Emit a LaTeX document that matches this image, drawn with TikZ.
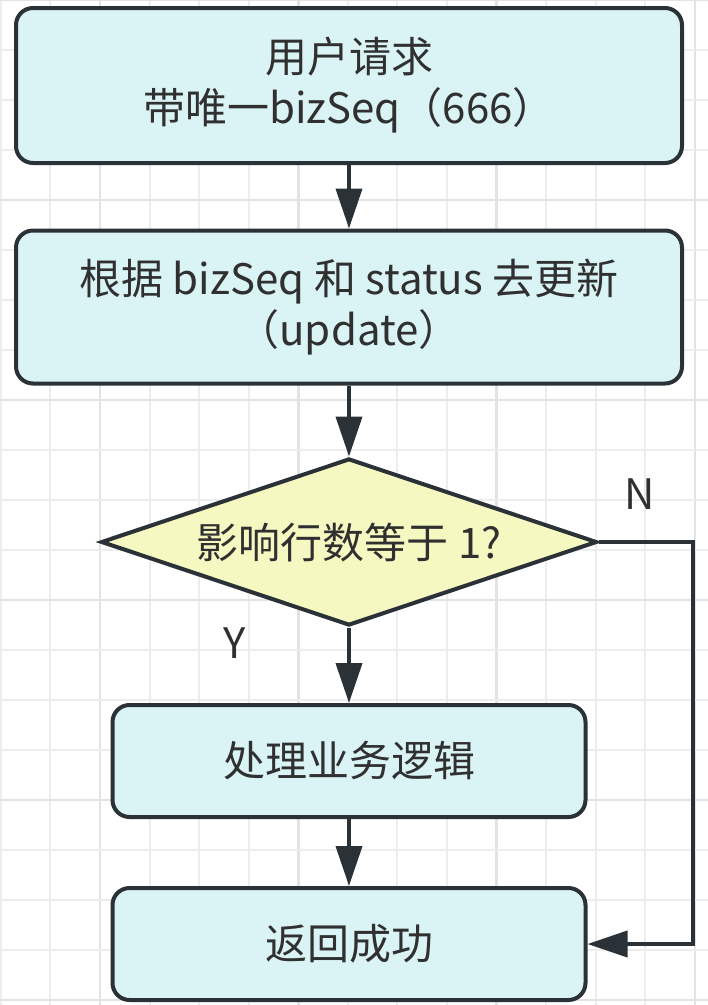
\documentclass[tikz,border=0pt]{standalone}
\usepackage{fontspec}
\setmainfont{Noto Sans CJK SC}
\usetikzlibrary{shapes.geometric,arrows.meta}
\definecolor{boxfill}{HTML}{DAF3F4}
\definecolor{askfill}{HTML}{F5F8C0}
\definecolor{edge}{HTML}{2B3237}
\definecolor{ink}{HTML}{303030}
\definecolor{gridminor}{HTML}{EDEDED}
\definecolor{gridmajor}{HTML}{E3E3E3}
\begin{document}
\begin{tikzpicture}[
  x=1pt,
  y=-1pt,
  txt/.style={font=\fontsize{42}{51}\selectfont, text=ink},
  stepbox/.style={txt, draw=edge, fill=boxfill, line width=4pt, rounded corners=17pt, align=center, inner sep=0pt},
  ask/.style={txt, diamond, shape aspect=2.97, draw=edge, fill=askfill, line width=4pt, inner sep=0pt, minimum width=496pt, minimum height=167pt},
  flow/.style={draw=edge, line width=4pt, -{Triangle[length=40pt,width=26pt]}},
  tag/.style={txt}
]

\useasboundingbox (0,0) rectangle (708,1005);
\foreach \k in {0,...,14} {
  \pgfmathtruncatemacro{\major}{mod(\k,4)==2}
  \ifnum\major=1
    \draw[gridmajor, line width=2.6pt] (0.8+49.58*\k,0) -- (0.8+49.58*\k,1005);
  \else
    \draw[gridminor, line width=2pt] (0.8+49.58*\k,0) -- (0.8+49.58*\k,1005);
  \fi
}
\foreach \k in {0,...,20} {
  \pgfmathtruncatemacro{\major}{mod(\k,4)==0}
  \ifnum\major=1
    \draw[gridmajor, line width=2.6pt] (0,50*\k) -- (708,50*\k);
  \else
    \draw[gridminor, line width=2pt] (0,50*\k) -- (708,50*\k);
  \fi
}

\node[stepbox, minimum width=666pt, minimum height=155pt] (request) at (349,85.5) {用户请求\\带唯一bizSeq（666）};
\node[stepbox, minimum width=666pt, minimum height=153pt] (update) at (349,307) {根据 bizSeq 和 status 去更新\\（update）};
\node[ask] (check) at (349,542) {影响行数等于 1?};
\node[stepbox, minimum width=473pt, minimum height=112pt] (handle) at (349,761) {处理业务逻辑};
\node[stepbox, minimum width=473pt, minimum height=112pt] (success) at (349,944) {返回成功};

\node[tag] (no) at (640,494) {N};
\node[tag] (yes) at (235,643) {Y};
\coordinate (rail) at (693,740);

\draw[flow] (request) -- (update);
\draw[flow] (update) -- (check);
\draw[flow] (check) -- (handle);
\draw[flow] (handle) -- (success);
\draw[flow] (check.east) -| (rail) |- (success.east);
\end{tikzpicture}
\end{document}
